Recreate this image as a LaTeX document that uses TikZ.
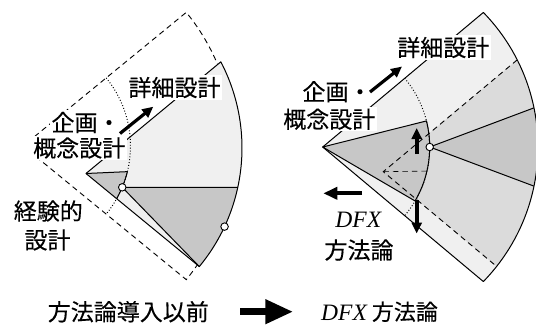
\documentclass[tikz,border=0pt]{standalone}
\usepackage{fontspec}
\newfontfamily\jpfont[FakeBold=0.3,AutoFakeBold=0.3]{Noto Sans CJK JP}
\newfontfamily\latinserif{Liberation Serif}
\usetikzlibrary{arrows.meta,calc}
\definecolor{lightfill}{gray}{0.94}
\definecolor{midfill}{gray}{0.86}
\definecolor{darkfill}{gray}{0.78}
\begin{document}
\begin{tikzpicture}[x=1pt,y=-1pt,
  outline/.style={line width=1pt,line join=round},
  dashline/.style={line width=0.9pt,dash pattern=on 5.5pt off 4pt},
  dotline/.style={line width=1pt,dash pattern=on 0.9pt off 2pt},
  lbl/.style={font=\jpfont\fontsize{23pt}{27pt}\selectfont,inner sep=1.5pt},
  lblw/.style={lbl,fill=white},
  fatarrow/.style={line width=3.2pt,-{Triangle[length=11pt,width=10pt]}},
  marker/.style={circle,draw,fill=white,inner sep=0pt,minimum size=7.5pt,line width=0.9pt}]
\useasboundingbox (0,0) rectangle (536,325);

% ---------------- left figure ----------------
\coordinate (D) at (23,146);
\coordinate (Dt) at ($(D)+(-39.3:211)$);
\coordinate (Db) at ($(D)+(39.3:211)$);
\coordinate (Ds1) at ($(D)!0.07!(Dt)$);
\coordinate (Ds2) at ($(D)!0.07!(Db)$);
\draw[dashline] (Ds1) -- (Dt) arc[start angle=-39.3,end angle=39.3,radius=211] -- (Ds2);

\coordinate (A) at (86,173.5);
\coordinate (O1) at (56,148);
\coordinate (T) at ($(O1)+(-27.6:186)$);
\coordinate (B) at ($(O1)+(39.6:186)$);
\fill[lightfill] (A) -- (T) arc[start angle=-27.6,end angle=39.6,radius=186] -- cycle;
\coordinate (P) at ($(D)+(13.8:107.5)$);
\coordinate (C1) at ($(D)+(22.6:107.5)$);
\coordinate (H) at ($(O1)+(12.2:186)$);
\coordinate (C2) at ($(O1)+(25:186)$);
\fill[darkfill] (A) -- (P) arc[start angle=13.8,end angle=29.2,radius=107.5] -- cycle;
\fill[darkfill] (C1) -- (H) arc[start angle=12.2,end angle=39.6,radius=186] -- cycle;
\draw[dotline] ($(D)+(-39.3:107.5)$) arc[start angle=-39.3,end angle=39.3,radius=107.5];
\draw[outline] (A) -- (P) arc[start angle=13.8,end angle=29.2,radius=107.5];
\draw[outline] (B) -- (C1) -- (H);
\draw[outline] (A) -- (T) arc[start angle=-27.6,end angle=39.6,radius=186] -- cycle;
\node[marker] (m1) at (C1) {};
\node[marker] (m2) at (C2) {};

\node[lblw] (l1) at (174.5,87.5) {詳細設計};
\node[lblw] (l2) at (86,122.5) {企画・};
\node[lblw] (l3) at (79.2,148) {概念設計};
\node[lbl] (l4) at (48.3,211) {経験的};
\node[lbl] (l5) at (47.5,240) {設計};
\coordinate (la1) at (120,133.5);
\coordinate (la2) at (153.3,106.7);
\draw[fatarrow] (la1) -- (la2);

% ---------------- right figure ----------------
\coordinate (E) at (322.7,147);
\coordinate (O2) at (345,147);
\coordinate (Tr) at ($(O2)+(-44.2:193)$);
\fill[lightfill] (E) -- (Tr) arc[start angle=-44.2,end angle=44.2,radius=193] -- cycle;
\coordinate (Dr) at (383.3,171.7);
\coordinate (U) at ($(O2)+(-26.84:193)$);
\coordinate (L) at ($(O2)+(38.22:193)$);
\fill[midfill] (Dr) -- (U) arc[start angle=-26.84,end angle=38.22,radius=193] -- cycle;
\coordinate (Cr) at ($(E)+(0:107)$);
\coordinate (W1) at ($(O2)+(-11.7:193)$);
\coordinate (W2) at ($(O2)+(11.7:193)$);
\coordinate (S1) at ($(E)+(-14.1:107)$);
\coordinate (S3) at ($(E)+(13:107)$);
\fill[darkfill] (E) -- (S1) arc[start angle=-14.1,end angle=30.3,radius=107] -- cycle;
\fill[darkfill] (Cr) -- (W1) arc[start angle=-11.7,end angle=11.7,radius=193] -- cycle;
\draw[dashline] (U) -- (Dr) -- (L);
\draw[dashline,line width=0.6pt] (Dr) -- (S3);
\draw[dotline] ($(E)+(-40:107)$) arc[start angle=-40,end angle=40,radius=107];
\draw[outline] (E) -- (S1) arc[start angle=-14.1,end angle=30.3,radius=107] -- cycle;
\draw[outline] (W1) -- (Cr) -- (W2);
\draw[outline] (E) -- (Tr) arc[start angle=-44.2,end angle=44.2,radius=193] -- cycle;
\node[marker] (m3) at (Cr) {};

\node[lblw] (r1) at (443.3,47.5) {詳細設計};
\node[lblw] (r2) at (337,91.7) {企画・};
\node[lblw] (r3) at (329.3,119.2) {概念設計};
\node[lbl,font=\latinserif\itshape\fontsize{23.5pt}{27pt}\selectfont] (r4) at (358.3,220) {DFX};
\node[lbl] (r5) at (359,250) {方法論};
\coordinate (ra1) at (370,92);
\coordinate (ra2) at (402,66.5);
\draw[fatarrow] (ra1) -- (ra2);
\coordinate (ua1) at (416.7,154);
\coordinate (ua2) at (416.7,128);
\draw[fatarrow,line width=4pt] (ua1) -- (ua2);
\coordinate (da1) at (416.7,200);
\coordinate (da2) at (416.7,233.5);
\draw[fatarrow,line width=4pt] (da1) -- (da2);
\coordinate (wa1) at (362,193.3);
\coordinate (wa2) at (323.3,193.3);
\draw[line width=4pt,-{Triangle[length=14pt,width=12pt]}] (wa1) -- (wa2);

% ---------------- bottom ----------------
\node[lbl] (b1) at (128.3,311.7) {方法論導入以前};
\coordinate (ba1) at (240,311.7);
\coordinate (ba2) at (293.3,311.7);
\draw[line width=7.5pt,-{Triangle[length=28pt,width=23pt]}] (ba1) -- (ba2);
\node[lbl,anchor=west,inner sep=0pt,font=\jpfont\fontsize{22pt}{26pt}\selectfont] (b2) at (321,311.7) {{\latinserif\itshape\fontsize{23.5pt}{27pt}\selectfont DFX}\hspace{5pt}方法論};
\end{tikzpicture}
\end{document}
